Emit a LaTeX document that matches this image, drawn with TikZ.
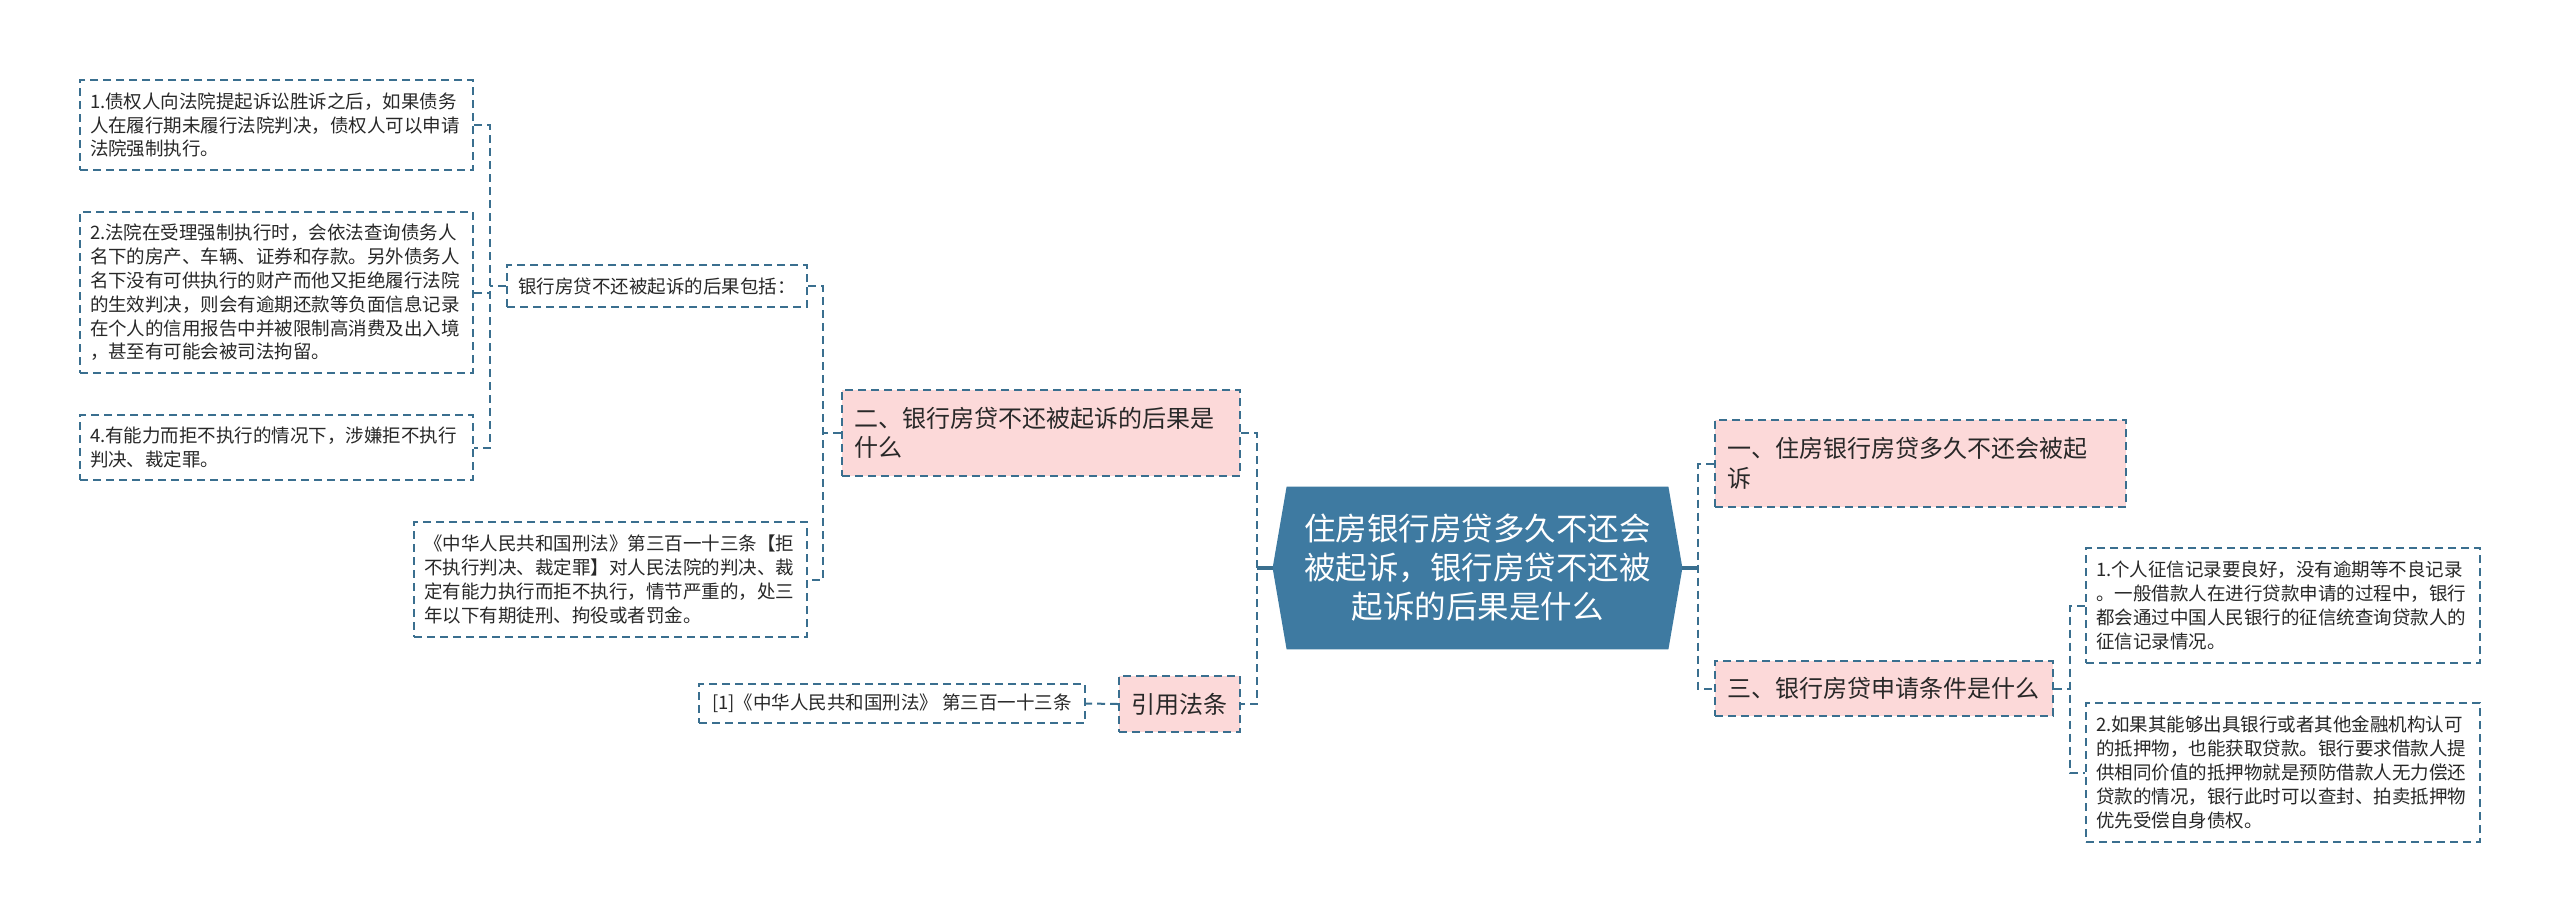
\documentclass[tikz,border=0pt]{standalone}
\usepackage{fontspec}
\setmainfont{Noto Sans CJK SC}
\usetikzlibrary{calc,backgrounds}
\definecolor{lineblue}{RGB}{58,111,143}
\definecolor{centerblue}{RGB}{62,122,161}
\definecolor{pinkfill}{RGB}{252,217,217}
\definecolor{textgray}{RGB}{40,40,40}
\tikzset{
  dashbox/.style={draw=lineblue, line width=1pt, dash pattern=on 4pt off 2.5pt, text=textgray, inner ysep=0pt},
  leafbox/.style={dashbox, inner xsep=5pt, align=left, font=\fontsize{9.25}{11.9}\selectfont},
  leafone/.style={dashbox, inner xsep=4pt, align=center, font=\fontsize{9.25}{11.9}\selectfont},
  pinkbox/.style={dashbox, fill=pinkfill, inner xsep=6pt, align=left, font=\fontsize{12}{14.8}\selectfont},
  conn/.style={draw=lineblue, line width=1pt, dash pattern=on 4pt off 2.5pt},
  solidconn/.style={draw=lineblue, line width=1.6pt},
}
\begin{document}
\begin{tikzpicture}[x=0.5pt,y=-0.5pt]
\useasboundingbox (0,0) rectangle (2560,922);
% left leaves
\node[leafbox, text width=186.5pt, minimum height=45pt] (b1) at (276.5,125)
 {1.债权人向法院提起诉讼胜诉之后，如果债务\\人在履行期未履行法院判决，债权人可以申请\\法院强制执行。};
\node[leafbox, text width=186.5pt, minimum height=80.5pt] (b2) at (276.5,292.5)
 {2.法院在受理强制执行时，会依法查询债务人\\名下的房产、车辆、证券和存款。另外债务人\\名下没有可供执行的财产而他又拒绝履行法院\\的生效判决，则会有逾期还款等负面信息记录\\在个人的信用报告中并被限制高消费及出入境\\，甚至有可能会被司法拘留。};
\node[leafbox, text width=186.5pt, minimum height=32.5pt] (b4) at (276.5,447.5)
 {4.有能力而拒不执行的情况下，涉嫌拒不执行\\判决、裁定罪。};
\node[leafone, minimum width=150pt, minimum height=21pt] (lab) at (657,286)
 {银行房贷不还被起诉的后果包括：};
\node[leafbox, text width=186.5pt, minimum height=57.5pt] (law) at (610.5,579.5)
 {《中华人民共和国刑法》第三百一十三条【拒\\不执行判决、裁定罪】对人民法院的判决、裁\\定有能力执行而拒不执行，情节严重的，处三\\年以下有期徒刑、拘役或者罚金。};
\node[leafone, minimum width=193pt, minimum height=19.5pt] (ref) at (892,703.5)
 {[1]《中华人民共和国刑法》 第三百一十三条};
% second level
\node[pinkbox, text width=187pt, minimum height=43pt] (er) at (1041,433)
 {二、银行房贷不还被起诉的后果是\\什么};
\node[pinkbox, align=center, minimum width=60.5pt, minimum height=28pt] (yin) at (1179.5,704)
 {引用法条};
\node[pinkbox, text width=193.5pt, minimum height=43.5pt] (yi) at (1920.5,463.5)
 {一、住房银行房贷多久不还会被起\\诉};
\node[pinkbox, text width=157pt, minimum height=27.5pt] (san) at (1884,688.5)
 {三、银行房贷申请条件是什么};
% right leaves
\node[leafbox, text width=187pt, minimum height=57.5pt] (r1) at (2283,605.5)
 {1.个人征信记录要良好，没有逾期等不良记录\\。一般借款人在进行贷款申请的过程中，银行\\都会通过中国人民银行的征信统查询贷款人的\\征信记录情况。};
\node[leafbox, text width=187pt, minimum height=69.5pt] (r2) at (2283,772.5)
 {2.如果其能够出具银行或者其他金融机构认可\\的抵押物，也能获取贷款。银行要求借款人提\\供相同价值的抵押物就是预防借款人无力偿还\\贷款的情况，银行此时可以查封、拍卖抵押物\\优先受偿自身债权。};
% center
\node[text=white, align=center, inner sep=0pt, minimum width=190.5pt, minimum height=81pt,
      font=\fontsize{15.75}{19.5}\selectfont] (c) at (1477.5,568)
 {住房银行房贷多久不还会\\被起诉，银行房贷不还被\\起诉的后果是什么};
\coordinate (cl) at ($(c.west)+(-14,0)$);
\coordinate (cr) at ($(c.east)+(14,0)$);
\begin{scope}[on background layer]
\fill[white] (0,0) rectangle (2560,922);
\fill[centerblue] (c.north west) -- (c.north east) -- (cr) -- (c.south east) -- (c.south west) -- (cl) -- cycle;
\end{scope}
% junction x positions
\coordinate (j1) at (490,0);
\coordinate (j2) at (823,0);
\coordinate (j3) at (1257,0);
\coordinate (j4) at (1698,0);
\coordinate (j5) at (2070,0);
% connectors
\draw[conn] (lab.west) -- (lab.west -| j1);
\draw[conn] (b1.east) -- (b1.east -| j1) -- (b4.east -| j1) -- (b4.east);
\draw[conn] (b2.east) -- (b2.east -| j1);
\draw[conn] (er.west) -- (er.west -| j2);
\draw[conn] (lab.east) -- (lab.east -| j2) -- (law.east -| j2) -- (law.east);
\draw[solidconn] (cl) -- (cl -| j3);
\draw[conn] (er.east) -- (er.east -| j3) -- (yin.east -| j3) -- (yin.east);
\draw[conn] (yin.west) -- (ref.east);
\draw[solidconn] (cr) -- (cr -| j4);
\draw[conn] (yi.west) -- (yi.west -| j4) -- (san.west -| j4) -- (san.west);
\draw[conn] (san.east) -- (san.east -| j5);
\draw[conn] (r1.west) -- (r1.west -| j5) -- (r2.west -| j5) -- (r2.west);
\end{tikzpicture}
\end{document}
